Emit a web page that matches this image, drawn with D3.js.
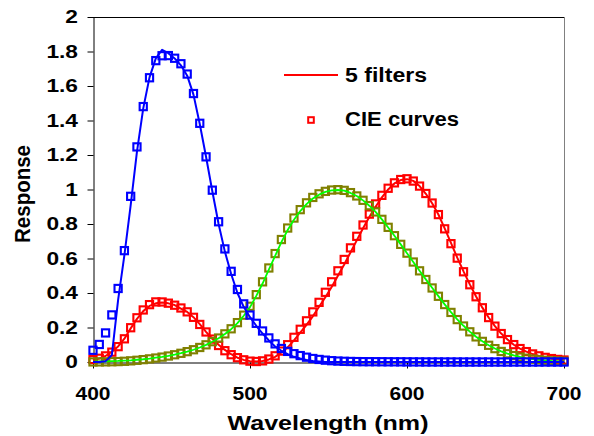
<!DOCTYPE html>
<html><head><meta charset="utf-8">
<script src="https://cdn.jsdelivr.net/npm/d3@7"></script>
<style>body{margin:0;background:#fff}svg{display:block}text{font-family:"Liberation Sans",Arial,sans-serif;font-weight:bold;fill:#000}</style>
</head><body><svg id="c" width="594" height="436"></svg>
<script>
const wavelengths = [400,404,408,412,416,420,424,428,432,436,440,444,448,452,456,460,464,468,472,476,480,484,488,492,496,500,504,508,512,516,520,524,528,532,536,540,544,548,552,556,560,564,568,572,576,580,584,588,592,596,600,604,608,612,616,620,624,628,632,636,640,644,648,652,656,660,664,668,672,676,680,684,688,692,696,700];
const cieX = [0.0143,0.0214,0.0354,0.0571,0.0890,0.1344,0.1987,0.2563,0.3017,0.3325,
0.3483,0.3481,0.3410,0.3292,0.3131,0.2908,0.2590,0.2177,0.1741,0.1328,
0.0956,0.0655,0.0424,0.0251,0.0127,0.0049,0.0029,0.0065,0.0172,0.0359,
0.0633,0.1003,0.1431,0.1896,0.2387,0.2904,0.3458,0.4040,0.4649,0.5286,
0.5945,0.6616,0.7286,0.7943,0.8573,0.9163,0.9661,1.0072,1.0385,1.0578,
1.0622,1.0489,1.0198,0.9769,0.9216,0.8545,0.7720,0.6860,0.6022,0.5231,
0.4479,0.3782,0.3144,0.2576,0.2079,0.1649,0.1299,0.1009,0.0779,0.0602,
0.0468,0.0357,0.0268,0.0199,0.0149,0.0114];
const cieY = [0.0004,0.0006,0.0010,0.0016,0.0025,0.0040,0.0066,0.0099,0.0137,0.0181,
0.0230,0.0284,0.0347,0.0420,0.0504,0.0600,0.0711,0.0842,0.0996,0.1179,
0.1390,0.1632,0.1925,0.2282,0.2715,0.3230,0.3904,0.4647,0.5451,0.6286,
0.7100,0.7766,0.8345,0.8832,0.9227,0.9540,0.9750,0.9891,0.9970,0.9990,
0.9950,0.9819,0.9626,0.9374,0.9063,0.8700,0.8270,0.7807,0.7322,0.6821,
0.6310,0.5796,0.5285,0.4783,0.4292,0.3810,0.3330,0.2874,0.2458,0.2086,
0.1750,0.1456,0.1195,0.0968,0.0775,0.0610,0.0479,0.0370,0.0285,0.0220,
0.0170,0.0129,0.0097,0.0072,0.0054,0.0041];
const cieZ = [0.0679,0.1017,0.1685,0.2730,0.4262,0.6456,0.9604,1.2470,1.4806,1.6478,
1.7471,1.7755,1.7763,1.7609,1.7291,1.6692,1.5563,1.3838,1.1893,0.9961,
0.8130,0.6556,0.5256,0.4204,0.3370,0.2720,0.2242,0.1798,0.1396,0.1050,
0.0783,0.0615,0.0482,0.0372,0.0279,0.0203,0.0148,0.0106,0.0076,0.0054,
0.0039,0.0030,0.0024,0.0020,0.0018,0.0017,0.0015,0.0012,0.0011,0.0010,
0.0008,0.0006,0.0005,0.0003,0.0002,0.0002,0.0001,0.0001,0,0,
0,0,0,0,0,0,0,0,0,0,
0,0,0,0,0,0];
const filterX = [0.010,0.020,0.035,0.060,0.090,0.135,0.195,0.250,0.295,0.325,
0.340,0.345,0.340,0.330,0.310,0.290,0.260,0.220,0.175,0.135,
0.100,0.070,0.045,0.025,0.012,0.005,0.003,0.006,0.015,0.030,
0.055,0.085,0.125,0.170,0.215,0.265,0.320,0.375,0.435,0.500,
0.565,0.635,0.705,0.775,0.840,0.900,0.955,1.000,1.035,1.055,
1.060,1.050,1.020,0.975,0.920,0.855,0.775,0.690,0.605,0.525,
0.450,0.380,0.315,0.258,0.208,0.165,0.130,0.100,0.078,0.060,
0.046,0.035,0.026,0.019,0.014,0.010];
const filterY = [0.002,0.003,0.004,0.005,0.006,0.008,0.010,0.013,0.016,0.020,
0.025,0.030,0.036,0.043,0.051,0.060,0.071,0.084,0.099,0.117,
0.138,0.162,0.190,0.225,0.268,0.318,0.383,0.455,0.535,0.615,
0.695,0.765,0.825,0.875,0.915,0.948,0.970,0.986,0.995,0.997,
0.993,0.980,0.962,0.937,0.906,0.870,0.827,0.780,0.732,0.682,
0.631,0.580,0.529,0.479,0.430,0.382,0.334,0.289,0.247,0.210,
0.176,0.146,0.120,0.097,0.078,0.062,0.049,0.038,0.029,0.022,
0.017,0.013,0.010,0.007,0.005,0.004];
const filterZ = [0,0,0.005,0.040,0.360,0.620,0.910,1.220,1.470,1.650,
1.760,1.810,1.790,1.760,1.720,1.660,1.550,1.380,1.190,0.990,
0.800,0.640,0.510,0.400,0.320,0.260,0.210,0.165,0.125,0.090,
0.065,0.045,0.030,0.020,0.012,0.006,0.003,0,0,0,
0,0,0,0,0,0,0,0,0,0,
0,0,0,0,0,0,0,0,0,0,
0,0,0,0,0,0,0,0,0,0,
0,0,0,0,0,0];
const yTicks = [0,0.2,0.4,0.6,0.8,1,1.2,1.4,1.6,1.8,2];
const yTickLabels = ["0","0.2","0.4","0.6","0.8","1","1.2","1.4","1.6","1.8","2"];
const xTicks = [400,500,600,700];
const xTickLabels = ["400","500","600","700"];
const legendLabels = ["5 filters","CIE curves"];

const svg = d3.select("#c");
const x = d3.scaleLinear().domain([400,700]).range([93,564]);
const y = d3.scaleLinear().domain([0,2]).range([362,17]);

// frame
svg.append("line").attr("x1",93).attr("x2",564).attr("y1",17.5).attr("y2",17.5).attr("stroke","#000");
svg.append("line").attr("x1",564.5).attr("x2",564.5).attr("y1",17).attr("y2",368).attr("stroke","#808080");

const gy = svg.append("g").attr("transform","translate(93.5,0)")
  .call(d3.axisLeft(y).tickValues(yTicks).tickSize(6).tickSizeOuter(0).tickFormat(""));
gy.selectAll("path,line").attr("stroke","#000");
const gx = svg.append("g").attr("transform","translate(0,362.5)")
  .call(d3.axisBottom(x).tickValues(xTicks).tickSize(6).tickSizeOuter(0).tickFormat(""));
gx.selectAll("path,line").attr("stroke","#000");

yTicks.forEach((v,i)=>{
  svg.append("g").attr("transform",`translate(78,${y(v)}) scale(1.3,1)`)
    .append("text").attr("text-anchor","end").attr("dy","0.36em").style("font-size","17.5px").text(yTickLabels[i]);
});
xTicks.forEach((v,i)=>{
  svg.append("g").attr("transform",`translate(${x(v)},400) scale(1.2,1)`)
    .append("text").attr("text-anchor","middle").style("font-size","17.5px").text(xTickLabels[i]);
});

svg.append("text").attr("x",328).attr("y",430).attr("text-anchor","middle")
  .attr("textLength",201).attr("lengthAdjust","spacingAndGlyphs")
  .style("font-size","20.5px").text("Wavelength (nm)");
svg.append("g").attr("transform","translate(30,194) scale(1.1,1) rotate(-90)")
  .append("text").attr("text-anchor","middle")
  .style("font-size","20.5px").text("Response");

// markers
const ms = 7.2;
function markers(vals,color){
  svg.append("g").selectAll("rect").data(wavelengths).join("rect")
    .attr("x",(d)=>x(d)-ms/2).attr("y",(d,i)=>y(vals[i])-ms/2)
    .attr("width",ms).attr("height",ms)
    .attr("fill","none").attr("stroke",color).attr("stroke-width",2.1);
}
function line(vals,color,w){
  const gen = d3.line().x((d)=>x(d)).y((d,i)=>y(vals[i]));
  svg.append("path").attr("d",gen(wavelengths)).attr("fill","none")
    .attr("stroke",color).attr("stroke-width",w).attr("stroke-linejoin","round");
}
line(filterX,"#FF0000",2);
markers(cieX,"#FF0000");
markers(cieY,"#808000");
line(filterY,"#00FF00",1.8);
line(filterZ,"#0000FF",2);
markers(cieZ,"#0000FF");

// legend
svg.append("line").attr("x1",284).attr("x2",338).attr("y1",75).attr("y2",75).attr("stroke","#FF0000").attr("stroke-width",2);
svg.append("text").attr("x",345).attr("y",82).attr("textLength",82).attr("lengthAdjust","spacingAndGlyphs")
  .style("font-size","20px").text(legendLabels[0]);
svg.append("rect").attr("x",311-2.8).attr("y",120-2.8).attr("width",5.6).attr("height",5.6)
  .attr("fill","none").attr("stroke","#FF0000").attr("stroke-width",2);
svg.append("text").attr("x",345).attr("y",126).attr("textLength",114).attr("lengthAdjust","spacingAndGlyphs")
  .style("font-size","20px").text(legendLabels[1]);
</script></body></html>
